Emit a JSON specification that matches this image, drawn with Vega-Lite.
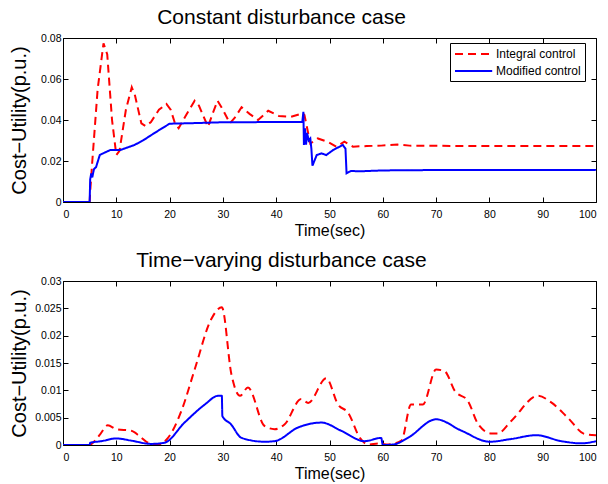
{
  "$schema": "https://vega.github.io/schema/vega-lite/v6.json",
  "autosize": {"type": "pad"},
  "padding": {"left": 8, "top": 6, "right": 0, "bottom": 0},
  "background": "white",
  "config": {
    "font": "Liberation Sans",
    "view": {"stroke": "black", "strokeWidth": 1},
    "axis": {
      "grid": false,
      "domain": false,
      "tickColor": "black",
      "tickSize": -5,
      "labelColor": "black",
      "labelFontSize": 10.5,
      "labelFont": "Liberation Sans",
      "titleFont": "Liberation Sans",
      "titleFontWeight": "normal",
      "titleColor": "black"
    },
    "title": {"font": "Liberation Sans", "fontSize": 21, "fontWeight": "normal", "color": "black"},
    "legend": {
      "orient": "none",
      "legendX": 387,
      "legendY": 5,
      "strokeColor": "black",
      "fillColor": "white",
      "padding": 4,
      "labelFontSize": 12,
      "labelFont": "Liberation Sans",
      "labelColor": "black",
      "symbolType": "M-1,0H5.2",
      "symbolSize": 144,
      "symbolStrokeWidth": 2,
      "rowPadding": 4,
      "labelOffset": 28
    }
  },
  "datasets": {
    "top": [
      {"t": 0, "v": 0, "s": "Integral control"},
      {"t": 5, "v": 0, "s": "Integral control"},
      {"t": 5.1, "v": 0.005, "s": "Integral control"},
      {"t": 5.5, "v": 0.02, "s": "Integral control"},
      {"t": 6.5, "v": 0.055, "s": "Integral control"},
      {"t": 7.6, "v": 0.0774, "s": "Integral control"},
      {"t": 8.3, "v": 0.072, "s": "Integral control"},
      {"t": 9.2, "v": 0.04, "s": "Integral control"},
      {"t": 10.0, "v": 0.0229, "s": "Integral control"},
      {"t": 10.6, "v": 0.025, "s": "Integral control"},
      {"t": 11.8, "v": 0.045, "s": "Integral control"},
      {"t": 12.9, "v": 0.056, "s": "Integral control"},
      {"t": 13.5, "v": 0.052, "s": "Integral control"},
      {"t": 14.7, "v": 0.0384, "s": "Integral control"},
      {"t": 15.5, "v": 0.037, "s": "Integral control"},
      {"t": 16.5, "v": 0.039, "s": "Integral control"},
      {"t": 18, "v": 0.045, "s": "Integral control"},
      {"t": 19.4, "v": 0.0478, "s": "Integral control"},
      {"t": 20.2, "v": 0.045, "s": "Integral control"},
      {"t": 21, "v": 0.0385, "s": "Integral control"},
      {"t": 21.7, "v": 0.036, "s": "Integral control"},
      {"t": 23, "v": 0.042, "s": "Integral control"},
      {"t": 24.7, "v": 0.0494, "s": "Integral control"},
      {"t": 25.5, "v": 0.047, "s": "Integral control"},
      {"t": 27.2, "v": 0.0367, "s": "Integral control"},
      {"t": 28.2, "v": 0.044, "s": "Integral control"},
      {"t": 29, "v": 0.0494, "s": "Integral control"},
      {"t": 30, "v": 0.045, "s": "Integral control"},
      {"t": 31.3, "v": 0.0384, "s": "Integral control"},
      {"t": 32.2, "v": 0.041, "s": "Integral control"},
      {"t": 33.5, "v": 0.0462, "s": "Integral control"},
      {"t": 35, "v": 0.043, "s": "Integral control"},
      {"t": 36.6, "v": 0.040, "s": "Integral control"},
      {"t": 38.5, "v": 0.0445, "s": "Integral control"},
      {"t": 40.5, "v": 0.042, "s": "Integral control"},
      {"t": 42.8, "v": 0.0416, "s": "Integral control"},
      {"t": 45, "v": 0.0433, "s": "Integral control"},
      {"t": 45.3, "v": 0.0424, "s": "Integral control"},
      {"t": 46.4, "v": 0.0285, "s": "Integral control"},
      {"t": 47.8, "v": 0.031, "s": "Integral control"},
      {"t": 49.7, "v": 0.0293, "s": "Integral control"},
      {"t": 51.3, "v": 0.027, "s": "Integral control"},
      {"t": 52.8, "v": 0.0294, "s": "Integral control"},
      {"t": 54.4, "v": 0.027, "s": "Integral control"},
      {"t": 57, "v": 0.0273, "s": "Integral control"},
      {"t": 59.7, "v": 0.0275, "s": "Integral control"},
      {"t": 62.8, "v": 0.028, "s": "Integral control"},
      {"t": 65, "v": 0.0275, "s": "Integral control"},
      {"t": 70, "v": 0.0274, "s": "Integral control"},
      {"t": 80, "v": 0.0273, "s": "Integral control"},
      {"t": 90, "v": 0.0273, "s": "Integral control"},
      {"t": 100, "v": 0.0273, "s": "Integral control"},
      {"t": 0, "v": 0, "s": "Modified control"},
      {"t": 5, "v": 0, "s": "Modified control"},
      {"t": 5.1, "v": 0.011, "s": "Modified control"},
      {"t": 5.3, "v": 0.014, "s": "Modified control"},
      {"t": 5.5, "v": 0.012, "s": "Modified control"},
      {"t": 5.8, "v": 0.016, "s": "Modified control"},
      {"t": 6.2, "v": 0.017, "s": "Modified control"},
      {"t": 6.9, "v": 0.0229, "s": "Modified control"},
      {"t": 7.5, "v": 0.0237, "s": "Modified control"},
      {"t": 8.9, "v": 0.0254, "s": "Modified control"},
      {"t": 10.8, "v": 0.0254, "s": "Modified control"},
      {"t": 13.4, "v": 0.0278, "s": "Modified control"},
      {"t": 15, "v": 0.030, "s": "Modified control"},
      {"t": 16.6, "v": 0.0327, "s": "Modified control"},
      {"t": 18.3, "v": 0.0355, "s": "Modified control"},
      {"t": 20, "v": 0.0382, "s": "Modified control"},
      {"t": 25, "v": 0.0385, "s": "Modified control"},
      {"t": 30, "v": 0.0389, "s": "Modified control"},
      {"t": 40, "v": 0.039, "s": "Modified control"},
      {"t": 44.9, "v": 0.039, "s": "Modified control"},
      {"t": 45.1, "v": 0.044, "s": "Modified control"},
      {"t": 45.2, "v": 0.0278, "s": "Modified control"},
      {"t": 45.4, "v": 0.036, "s": "Modified control"},
      {"t": 45.6, "v": 0.028, "s": "Modified control"},
      {"t": 45.8, "v": 0.0337, "s": "Modified control"},
      {"t": 46.1, "v": 0.030, "s": "Modified control"},
      {"t": 46.4, "v": 0.031, "s": "Modified control"},
      {"t": 46.6, "v": 0.026, "s": "Modified control"},
      {"t": 46.8, "v": 0.0177, "s": "Modified control"},
      {"t": 47.6, "v": 0.0229, "s": "Modified control"},
      {"t": 48.5, "v": 0.0237, "s": "Modified control"},
      {"t": 49.4, "v": 0.0229, "s": "Modified control"},
      {"t": 50.7, "v": 0.0254, "s": "Modified control"},
      {"t": 52.5, "v": 0.0278, "s": "Modified control"},
      {"t": 53.0, "v": 0.026, "s": "Modified control"},
      {"t": 53.2, "v": 0.014, "s": "Modified control"},
      {"t": 54, "v": 0.0151, "s": "Modified control"},
      {"t": 56, "v": 0.015, "s": "Modified control"},
      {"t": 60, "v": 0.0154, "s": "Modified control"},
      {"t": 70, "v": 0.0156, "s": "Modified control"},
      {"t": 100, "v": 0.0156, "s": "Modified control"}
    ],
    "bottom": [
      {"t": 0, "v": 0, "s": "Integral control"},
      {"t": 5, "v": 0, "s": "Integral control"},
      {"t": 5.9, "v": 0.0007, "s": "Integral control"},
      {"t": 7, "v": 0.002, "s": "Integral control"},
      {"t": 8.4, "v": 0.0036, "s": "Integral control"},
      {"t": 10, "v": 0.0029, "s": "Integral control"},
      {"t": 12.8, "v": 0.0026, "s": "Integral control"},
      {"t": 14.4, "v": 0.0016, "s": "Integral control"},
      {"t": 16, "v": 0.0004, "s": "Integral control"},
      {"t": 17.9, "v": 0.0001, "s": "Integral control"},
      {"t": 19.7, "v": 0.0013, "s": "Integral control"},
      {"t": 22.2, "v": 0.0062, "s": "Integral control"},
      {"t": 24.7, "v": 0.0138, "s": "Integral control"},
      {"t": 27.8, "v": 0.023, "s": "Integral control"},
      {"t": 29.8, "v": 0.0252, "s": "Integral control"},
      {"t": 31.6, "v": 0.0129, "s": "Integral control"},
      {"t": 33.2, "v": 0.009, "s": "Integral control"},
      {"t": 34.7, "v": 0.0105, "s": "Integral control"},
      {"t": 37.8, "v": 0.0035, "s": "Integral control"},
      {"t": 39.7, "v": 0.0029, "s": "Integral control"},
      {"t": 41.6, "v": 0.0038, "s": "Integral control"},
      {"t": 44.7, "v": 0.0084, "s": "Integral control"},
      {"t": 46, "v": 0.0077, "s": "Integral control"},
      {"t": 49.4, "v": 0.0122, "s": "Integral control"},
      {"t": 51.6, "v": 0.0074, "s": "Integral control"},
      {"t": 53.5, "v": 0.0059, "s": "Integral control"},
      {"t": 55.7, "v": 0.0013, "s": "Integral control"},
      {"t": 57.3, "v": 0.0001, "s": "Integral control"},
      {"t": 59.2, "v": 0.0003, "s": "Integral control"},
      {"t": 61, "v": 0.0001, "s": "Integral control"},
      {"t": 63.5, "v": 0.0008, "s": "Integral control"},
      {"t": 65.3, "v": 0.0074, "s": "Integral control"},
      {"t": 67.5, "v": 0.0074, "s": "Integral control"},
      {"t": 70, "v": 0.0138, "s": "Integral control"},
      {"t": 71.6, "v": 0.0135, "s": "Integral control"},
      {"t": 73.5, "v": 0.0099, "s": "Integral control"},
      {"t": 76, "v": 0.008, "s": "Integral control"},
      {"t": 77.9, "v": 0.0038, "s": "Integral control"},
      {"t": 80.4, "v": 0.0021, "s": "Integral control"},
      {"t": 81.5, "v": 0.0021, "s": "Integral control"},
      {"t": 84.1, "v": 0.0044, "s": "Integral control"},
      {"t": 89.1, "v": 0.009, "s": "Integral control"},
      {"t": 91.6, "v": 0.0078, "s": "Integral control"},
      {"t": 94.7, "v": 0.005, "s": "Integral control"},
      {"t": 97.9, "v": 0.002, "s": "Integral control"},
      {"t": 100, "v": 0.0018, "s": "Integral control"},
      {"t": 0, "v": 0, "s": "Modified control"},
      {"t": 5, "v": 0, "s": "Modified control"},
      {"t": 5.1, "v": 0.0004, "s": "Modified control"},
      {"t": 7.2, "v": 0.0007, "s": "Modified control"},
      {"t": 10, "v": 0.0012, "s": "Modified control"},
      {"t": 12.8, "v": 0.0008, "s": "Modified control"},
      {"t": 16.5, "v": 0.0002, "s": "Modified control"},
      {"t": 19, "v": 0.0004, "s": "Modified control"},
      {"t": 22.8, "v": 0.0041, "s": "Modified control"},
      {"t": 26.6, "v": 0.0074, "s": "Modified control"},
      {"t": 29.1, "v": 0.009, "s": "Modified control"},
      {"t": 29.8, "v": 0.009, "s": "Modified control"},
      {"t": 29.9, "v": 0.0053, "s": "Modified control"},
      {"t": 31.5, "v": 0.0038, "s": "Modified control"},
      {"t": 33.5, "v": 0.0013, "s": "Modified control"},
      {"t": 37.8, "v": 0.0006, "s": "Modified control"},
      {"t": 39.7, "v": 0.0007, "s": "Modified control"},
      {"t": 44.1, "v": 0.0032, "s": "Modified control"},
      {"t": 48.5, "v": 0.0041, "s": "Modified control"},
      {"t": 52.2, "v": 0.0026, "s": "Modified control"},
      {"t": 56.6, "v": 0.0007, "s": "Modified control"},
      {"t": 59.7, "v": 0.0013, "s": "Modified control"},
      {"t": 60, "v": 0, "s": "Modified control"},
      {"t": 62, "v": 0.0001, "s": "Modified control"},
      {"t": 64.7, "v": 0.0013, "s": "Modified control"},
      {"t": 70, "v": 0.0047, "s": "Modified control"},
      {"t": 74.8, "v": 0.0026, "s": "Modified control"},
      {"t": 80, "v": 0.0006, "s": "Modified control"},
      {"t": 84.1, "v": 0.0011, "s": "Modified control"},
      {"t": 88.8, "v": 0.0018, "s": "Modified control"},
      {"t": 93.5, "v": 0.0007, "s": "Modified control"},
      {"t": 97.3, "v": 0.0003, "s": "Modified control"},
      {"t": 100, "v": 0.0007, "s": "Modified control"}
    ]
  },
  "spacing": 79,
  "bounds": "flush",
  "vconcat": [
    {
      "width": 533,
      "height": 164,
      "title": {"text": "Constant disturbance case", "dx": -48, "offset": 5},
      "data": {"name": "top"},
      "layer": [
        {
          "mark": {"type": "line", "strokeWidth": 2, "clip": true},
          "encoding": {
            "x": {"field": "t", "type": "quantitative", "scale": {"domain": [0, 100], "nice": false},
                  "axis": {"orient": "bottom", "values": [0,10,20,30,40,50,60,70,80,90,100], "labelPadding": 12, "title": "Time(sec)", "titleFontSize": 16, "titlePadding": 3}},
            "y": {"field": "v", "type": "quantitative", "scale": {"domain": [0, 0.08], "nice": false},
                  "axis": {"orient": "left", "values": [0,0.02,0.04,0.06,0.08], "format": "~g", "labelPadding": 7, "title": "Cost−Utility(p.u.)", "titleFontSize": 20, "titleX": -34, "titleY": 82}},
            "color": {"field": "s", "type": "nominal", "title": null,
                      "scale": {"domain": ["Integral control", "Modified control"], "range": ["#ff0000", "#0000ff"]}},
            "strokeDash": {"field": "s", "type": "nominal", "title": null,
                      "scale": {"domain": ["Integral control", "Modified control"], "range": [[8, 5], [1, 0]]}}
          }
        },
        {
          "mark": {"type": "line", "opacity": 0},
          "encoding": {
            "x": {"field": "t", "type": "quantitative", "axis": {"orient": "top", "values": [0,10,20,30,40,50,60,70,80,90,100], "labels": false, "title": null}},
            "y": {"field": "v", "type": "quantitative", "axis": {"orient": "right", "values": [0,0.02,0.04,0.06,0.08], "labels": false, "title": null}}
          }
        }
      ],
      "resolve": {"axis": {"x": "independent", "y": "independent"}}
    },
    {
      "width": 533,
      "height": 164,
      "title": {"text": "Time−varying disturbance case", "dx": -48, "offset": 5},
      "data": {"name": "bottom"},
      "layer": [
        {
          "mark": {"type": "line", "strokeWidth": 2, "clip": true, "interpolate": "monotone"},
          "encoding": {
            "x": {"field": "t", "type": "quantitative", "scale": {"domain": [0, 100], "nice": false},
                  "axis": {"orient": "bottom", "values": [0,10,20,30,40,50,60,70,80,90,100], "labelPadding": 12, "title": "Time(sec)", "titleFontSize": 16, "titlePadding": 3}},
            "y": {"field": "v", "type": "quantitative", "scale": {"domain": [0, 0.03], "nice": false},
                  "axis": {"orient": "left", "values": [0,0.005,0.01,0.015,0.02,0.025,0.03], "format": "~g", "labelPadding": 7, "title": "Cost−Utility(p.u.)", "titleFontSize": 20, "titleX": -34, "titleY": 82}},
            "color": {"field": "s", "type": "nominal", "title": null,
                      "scale": {"domain": ["Integral control", "Modified control"], "range": ["#ff0000", "#0000ff"]}},
            "strokeDash": {"field": "s", "type": "nominal", "title": null,
                      "scale": {"domain": ["Integral control", "Modified control"], "range": [[8, 5], [1, 0]]}}
          }
        },
        {
          "mark": {"type": "line", "opacity": 0},
          "encoding": {
            "x": {"field": "t", "type": "quantitative", "axis": {"orient": "top", "values": [0,10,20,30,40,50,60,70,80,90,100], "labels": false, "title": null}},
            "y": {"field": "v", "type": "quantitative", "axis": {"orient": "right", "values": [0,0.005,0.01,0.015,0.02,0.025,0.03], "labels": false, "title": null}}
          }
        }
      ],
      "resolve": {"axis": {"x": "independent", "y": "independent"}}
    }
  ]
}
